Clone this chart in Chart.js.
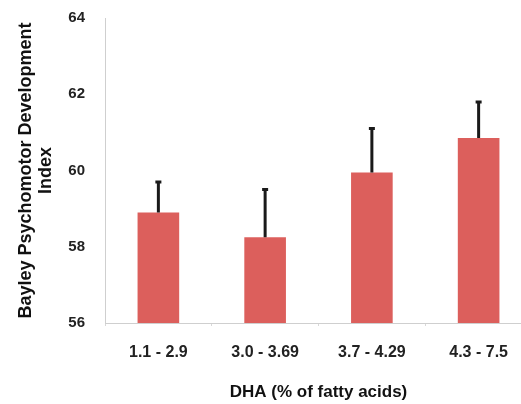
<!DOCTYPE html>
<html>
<head>
<meta charset="utf-8">
<script src="https://cdn.jsdelivr.net/npm/chart.js@4"></script>
<style>
  html, body { margin: 0; padding: 0; background: #fff; }
  /* the original picture is cut off on the right, so the canvas is a bit wider than the window */
  #wrap { width: 521px; height: 404px; overflow: hidden; }
</style>
</head>
<body>
<div id="wrap"><canvas id="bayleyChart" width="532" height="404"></canvas></div>
<script>
// DHA groups (% of fatty acids)
const dhaGroups = ['1.1 - 2.9', '3.0 - 3.69', '3.7 - 4.29', '4.3 - 7.5'];
// mean psychomotor development index per group
const meanPDI = [58.9, 58.25, 59.95, 60.85];
// upper end of error bar
const upperPDI = [59.7, 59.5, 61.1, 61.8];
// y axis ticks
const yTicks = [56, 58, 60, 62, 64];

// draws the upward error whiskers from the scales
const errorBars = {
    id: 'errorBars',
    afterDatasetsDraw(chart) {
        const ctx = chart.ctx;
        const yScale = chart.scales.y;
        const meta = chart.getDatasetMeta(0);
        ctx.save();
        ctx.strokeStyle = '#1a1a1a';
        ctx.lineWidth = 3;
        meta.data.forEach((bar, i) => {
            const yTop = yScale.getPixelForValue(upperPDI[i]);
            const yBase = yScale.getPixelForValue(meanPDI[i]);
            ctx.beginPath();
            ctx.moveTo(bar.x, yBase);
            ctx.lineTo(bar.x, yTop);
            ctx.moveTo(bar.x - 3, yTop);
            ctx.lineTo(bar.x + 3, yTop);
            ctx.stroke();
        });
        ctx.restore();
    }
};

function renderChart() {
    const ctx = document.getElementById('bayleyChart').getContext('2d');
    new Chart(ctx, {
        type: 'bar',
        data: {
            labels: dhaGroups,
            datasets: [{
                data: meanPDI,
                backgroundColor: '#dc5f5c',
                borderWidth: 0,
                barPercentage: 0.78,
                categoryPercentage: 0.5
            }]
        },
        options: {
            responsive: false,
            animation: false,
            layout: { padding: { top: 0, right: 0, left: 0, bottom: 0 } },
            plugins: {
                legend: { display: false },
                tooltip: { enabled: false }
            },
            scales: {
                x: {
                    grid: {
                        display: true,
                        drawOnChartArea: false,
                        offset: true,
                        color: '#d8d8d8',
                        tickLength: 3
                    },
                    border: { color: '#cfcfcf', width: 1 },
                    ticks: {
                        padding: 17,
                        color: '#222',
                        font: { family: 'Liberation Sans', size: 16, weight: 'bold' }
                    },
                    title: {
                        display: true,
                        text: 'DHA (% of fatty acids)',
                        color: '#111',
                        padding: { top: 10, bottom: 1 },
                        font: { family: 'Liberation Sans', size: 17, weight: 'bold' }
                    },
                    afterFit(scale) { scale.height = 81; }
                },
                y: {
                    min: 56,
                    max: 64,
                    afterBuildTicks(scale) {
                        scale.ticks = yTicks.map(v => ({ value: v }));
                    },
                    grid: { display: false },
                    border: { color: '#cfcfcf', width: 1 },
                    ticks: {
                        padding: 12,
                        color: '#222',
                        font: { family: 'Liberation Sans', size: 15, weight: 'bold', lineHeight: 0.8 }
                    },
                    title: {
                        display: true,
                        text: ['Bayley Psychomotor Development', 'Index'],
                        color: '#111',
                        padding: { top: 16, bottom: 0 },
                        font: { family: 'Liberation Sans', size: 18, weight: 'bold', lineHeight: 1.1 }
                    },
                    afterFit(scale) { scale.width = 105; }
                }
            }
        },
        plugins: [errorBars]
    });
}

window.onload = renderChart;
</script>
</body>
</html>
